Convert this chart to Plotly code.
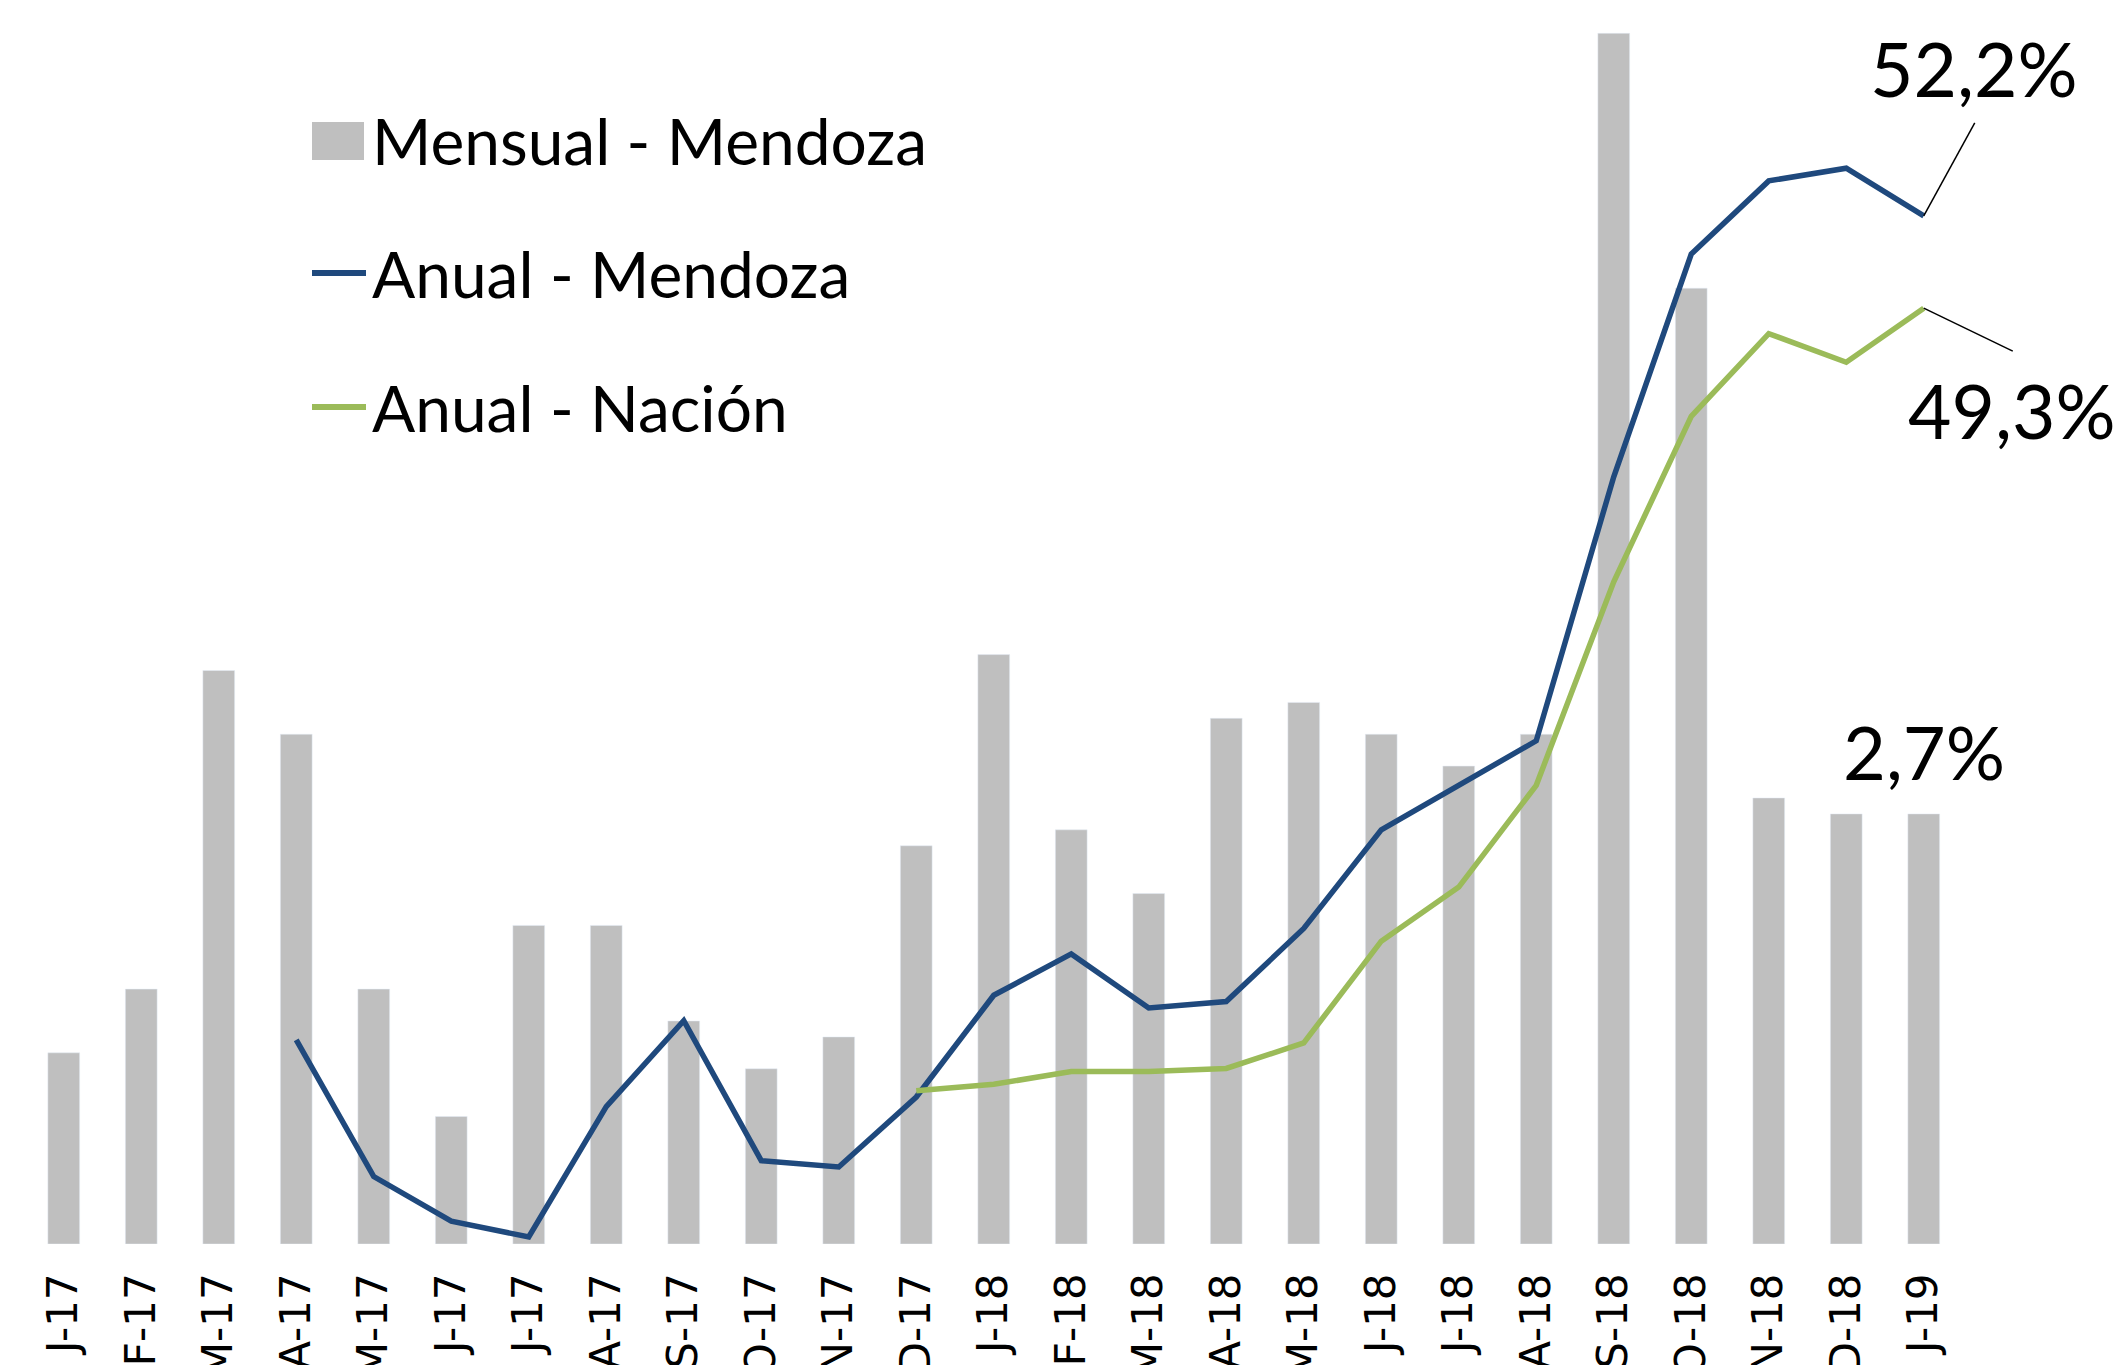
import plotly.graph_objects as go

# ---------------- data ----------------
meses = ["J-17", "F-17", "M-17", "A-17", "M-17", "J-17", "J-17", "A-17", "S-17", "O-17", "N-17", "D-17",
         "J-18", "F-18", "M-18", "A-18", "M-18", "J-18", "J-18", "A-18", "S-18", "O-18", "N-18", "D-18",
         "J-19"]
mensual_mendoza = [1.2, 1.6, 3.6, 3.2, 1.6, 0.8, 2.0, 2.0, 1.4, 1.1, 1.3, 2.5,
                   3.7, 2.6, 2.2, 3.3, 3.4, 3.2, 3.0, 3.2, 7.6, 6.0, 2.8, 2.7, 2.7]
anual_mendoza = [None, None, None, 26.3, 22.0, 20.6, 20.1, 24.2, 26.9, 22.5, 22.3, 24.5,
                 27.7, 29.0, 27.3, 27.5, 29.8, 32.9, 34.3, 35.7, 44.0, 51.0, 53.3, 53.7, 52.2]
anual_nacion = [None] * 11 + [24.7, 24.9, 25.3, 25.3, 25.4, 26.2, 29.4, 31.1, 34.3, 40.7,
                              45.9, 48.5, 47.6, 49.3]
series_names = ["Mensual - Mendoza", "Anual - Mendoza", "Anual - Nación"]
etiquetas = ["52,2%", "49,3%", "2,7%"]

# ---------------- styling ----------------
W, H = 2127, 1365
ML, MR, MT, MB = 25, 0, 20, 121
PW, PH = W - ML - MR, H - MT - MB
STEP = 77.5  # pixels per category
GRIS, AZUL, VERDE = "#BFBFBF", "#1F497D", "#9BBB59"
FONT = "Lato"

def px2x(px):
    return (px - ML) / PW

def px2y(py):
    return (H - MB - py) / PH

x = list(range(len(meses)))
last = len(meses) - 1

fig = go.Figure()
fig.add_trace(go.Bar(x=x, y=mensual_mendoza, name=series_names[0], marker_color=GRIS,
                     width=0.41, yaxis="y"))
fig.add_trace(go.Scatter(x=x, y=anual_mendoza, name=series_names[1], mode="lines",
                         line=dict(color=AZUL, width=5.5), yaxis="y2"))
fig.add_trace(go.Scatter(x=x, y=anual_nacion, name=series_names[2], mode="lines",
                         line=dict(color=VERDE, width=5.5), yaxis="y2"))

fig.update_layout(
    width=W, height=H,
    margin=dict(l=ML, r=MR, t=MT, b=MB, pad=0),
    paper_bgcolor="white", plot_bgcolor="white",
    showlegend=False,
    xaxis=dict(range=[-0.5, -0.5 + PW / STEP], tickmode="array", tickvals=x, ticktext=meses,
               tickangle=-90, tickfont=dict(family="DejaVu Sans", size=42, color="black"),
               showgrid=False, zeroline=False, showline=False, ticks="",
               ticklabelstandoff=20, automargin=False),
    yaxis=dict(range=[0, PH / 159.3], visible=False, showgrid=False, zeroline=False),
    yaxis2=dict(range=[19.88, 19.88 + PH / 31.81], overlaying="y", side="right",
                visible=False, showgrid=False, zeroline=False),
)

# manual legend
leg_x0, leg_x1, txt_x = 312, 366, 370
leg_rows = [141, 273, 407]
fig.add_shape(type="rect", xref="paper", yref="paper",
              x0=px2x(leg_x0), x1=px2x(364), y0=px2y(122), y1=px2y(160),
              fillcolor=GRIS, line=dict(width=0))
for yy, col in zip(leg_rows[1:], [AZUL, VERDE]):
    fig.add_shape(type="line", xref="paper", yref="paper",
                  x0=px2x(leg_x0), x1=px2x(leg_x1), y0=px2y(yy), y1=px2y(yy),
                  line=dict(color=col, width=6))
for yy, name in zip(leg_rows, series_names):
    fig.add_annotation(xref="paper", yref="paper", x=px2x(txt_x), y=px2y(yy),
                       text=name, showarrow=False, xanchor="left", yanchor="middle",
                       font=dict(family=FONT, size=64, color="black"))

# leader lines
fig.add_shape(type="line", xref="x", yref="y2", xsizemode="pixel", ysizemode="pixel",
              xanchor=last, yanchor=anual_mendoza[-1], x0=0, x1=51, y0=0, y1=93,
              line=dict(color="black", width=1.5))
fig.add_shape(type="line", xref="x", yref="y2", xsizemode="pixel", ysizemode="pixel",
              xanchor=last, yanchor=anual_nacion[-1], x0=0, x1=89, y0=0, y1=-43,
              line=dict(color="black", width=1.5))

# value labels
fig.add_annotation(x=last, y=anual_mendoza[-1], yref="y2", text=etiquetas[0], showarrow=False,
                   xshift=50, yshift=148, font=dict(family=FONT, size=75, color="black"))
fig.add_annotation(x=last, y=anual_nacion[-1], yref="y2", text=etiquetas[1], showarrow=False,
                   xshift=88, yshift=-102, font=dict(family=FONT, size=75, color="black"))
fig.add_annotation(x=last, y=mensual_mendoza[-1], yref="y", text=etiquetas[2], showarrow=False,
                   xshift=0, yshift=62, font=dict(family=FONT, size=74, color="black"))

fig.write_html("out.html", config={"displayModeBar": False},
               post_script="document.body.style.margin='0';document.body.style.overflow='hidden';")
